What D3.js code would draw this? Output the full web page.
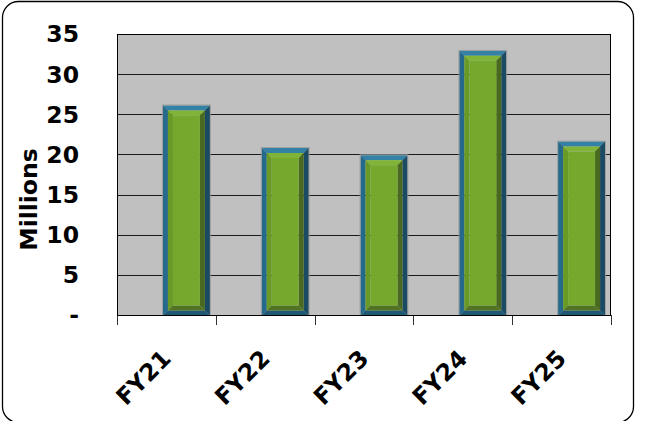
<!DOCTYPE html>
<html>
<head>
<meta charset="utf-8">
<script src="https://cdn.jsdelivr.net/npm/d3@7"></script>
<style>
  html, body { margin: 0; padding: 0; background: #fff; }
  svg { display: block; }
  text { font-family: "DejaVu Sans", sans-serif; font-weight: bold; fill: #000; }
</style>
</head>
<body>
<svg id="chart" width="647" height="421"></svg>
<script>
// Fiscal years and amounts (millions)
const categories = ["FY21", "FY22", "FY23", "FY24", "FY25"];
const values = [26.1, 20.8, 19.9, 32.9, 21.6];
const yTicks = [0, 5, 10, 15, 20, 25, 30, 35];
const yTickLabels = ["-", "5", "10", "15", "20", "25", "30", "35"];
const yTitle = "Millions";

const svg = d3.select("#chart");
const plot = { left: 117, right: 611, top: 34, bottom: 315 };

// Rounded chart frame
svg.append("rect")
  .attr("x", 2.5).attr("y", 1.5)
  .attr("width", 631).attr("height", 421)
  .attr("rx", 16).attr("ry", 16)
  .attr("fill", "#fff").attr("stroke", "#000").attr("stroke-width", 1.3);

const x = d3.scaleBand().domain(categories).range([plot.left, plot.right]).padding(0);
const y = d3.scaleLinear().domain([0, 35]).range([plot.bottom, plot.top]);

// Plot background
svg.append("rect")
  .attr("x", plot.left).attr("y", plot.top)
  .attr("width", plot.right - plot.left).attr("height", plot.bottom - plot.top)
  .attr("fill", "#C0C0C0");

// Gridlines
svg.append("g").selectAll("line").data(yTicks.slice(1, -1)).join("line")
  .attr("x1", plot.left).attr("x2", plot.right)
  .attr("y1", d => Math.round(y(d)) + 0.5).attr("y2", d => Math.round(y(d)) + 0.5)
  .attr("stroke", "#1a1a1a").attr("stroke-width", 1);

// Bevelled bars
const t1 = 5, t2 = 5;
const bars = svg.append("g").selectAll("g").data(categories).join("g");
bars.each(function(c, i) {
  const g = d3.select(this);
  const bw = x.bandwidth();
  const x0 = x(c) + bw * 0.465, x1 = x0 + bw * 0.475;
  const y0 = y(values[i]), y1 = y(0) + 0.5;
  const poly = (pts, fill) => g.append("polygon")
    .attr("points", pts.map(p => p.join(",")).join(" ")).attr("fill", fill);
  // outer blue frame
  poly([[x0, y0], [x1, y0], [x1 - t1, y0 + t1], [x0 + t1, y0 + t1]], "#3381A4");
  poly([[x0, y0], [x0 + t1, y0 + t1], [x0 + t1, y1 - t1], [x0, y1]], "#266A8B");
  poly([[x1, y0], [x1, y1], [x1 - t1, y1 - t1], [x1 - t1, y0 + t1]], "#1B4A63");
  poly([[x0, y1], [x1, y1], [x1 - t1, y1 - t1], [x0 + t1, y1 - t1]], "#1E5874");
  // inner green bevel
  const a0 = x0 + t1, a1 = x1 - t1, b0 = y0 + t1, b1 = y1 - t1;
  poly([[a0, b0], [a1, b0], [a1 - t2, b0 + t2], [a0 + t2, b0 + t2]], "#80B436");
  poly([[a0, b0], [a0 + t2, b0 + t2], [a0 + t2, b1 - t2], [a0, b1]], "#699A26");
  poly([[a1, b0], [a1, b1], [a1 - t2, b1 - t2], [a1 - t2, b0 + t2]], "#48691F");
  poly([[a0, b1], [a1, b1], [a1 - t2, b1 - t2], [a0 + t2, b1 - t2]], "#507423");
  g.append("rect")
    .attr("x", a0 + t2).attr("y", b0 + t2)
    .attr("width", Math.max(0, a1 - a0 - 2 * t2)).attr("height", Math.max(0, b1 - b0 - 2 * t2))
    .attr("fill", "#75A82C");
  g.append("rect")
    .attr("x", x0 - 0.5).attr("y", y0 - 0.5)
    .attr("width", x1 - x0 + 1).attr("height", y1 - y0 + 0.5)
    .attr("fill", "none").attr("stroke", "#9a9a9a").attr("stroke-width", 0.8);
});

// Plot border
svg.append("rect")
  .attr("x", plot.left + 0.5).attr("y", plot.top + 0.5)
  .attr("width", plot.right - plot.left - 1).attr("height", plot.bottom - plot.top)
  .attr("fill", "none").attr("stroke", "#000").attr("stroke-width", 1);

// X axis: boundary ticks and rotated labels
const bounds = categories.map(c => x(c)).concat([plot.right]);
svg.append("g").selectAll("line").data(bounds).join("line")
  .attr("x1", d => Math.round(d) + 0.5).attr("x2", d => Math.round(d) + 0.5)
  .attr("y1", plot.bottom).attr("y2", plot.bottom + 10)
  .attr("stroke", "#333").attr("stroke-width", 1);
svg.append("line")
  .attr("x1", plot.left).attr("x2", plot.right)
  .attr("y1", plot.bottom + 0.5).attr("y2", plot.bottom + 0.5)
  .attr("stroke", "#000");

svg.append("g").selectAll("text").data(categories).join("text")
  .attr("text-anchor", "end")
  .attr("font-size", 23.5)
  .attr("transform", c => `translate(${x(c) + x.bandwidth() / 2 + 6},${plot.bottom + 45}) rotate(-45)`)
  .text(c => c);

// Y axis labels
svg.append("g").selectAll("text").data(yTicks).join("text")
  .attr("x", 79).attr("y", d => y(d))
  .attr("dy", "0.36em")
  .attr("text-anchor", "end")
  .attr("font-size", 23.5)
  .text((d, i) => yTickLabels[i]);

svg.append("text")
  .attr("transform", `translate(37,${(plot.top + plot.bottom) / 2 + 25}) rotate(-90)`)
  .attr("text-anchor", "middle")
  .attr("font-size", 23.5)
  .text(yTitle);
</script>
</body>
</html>
